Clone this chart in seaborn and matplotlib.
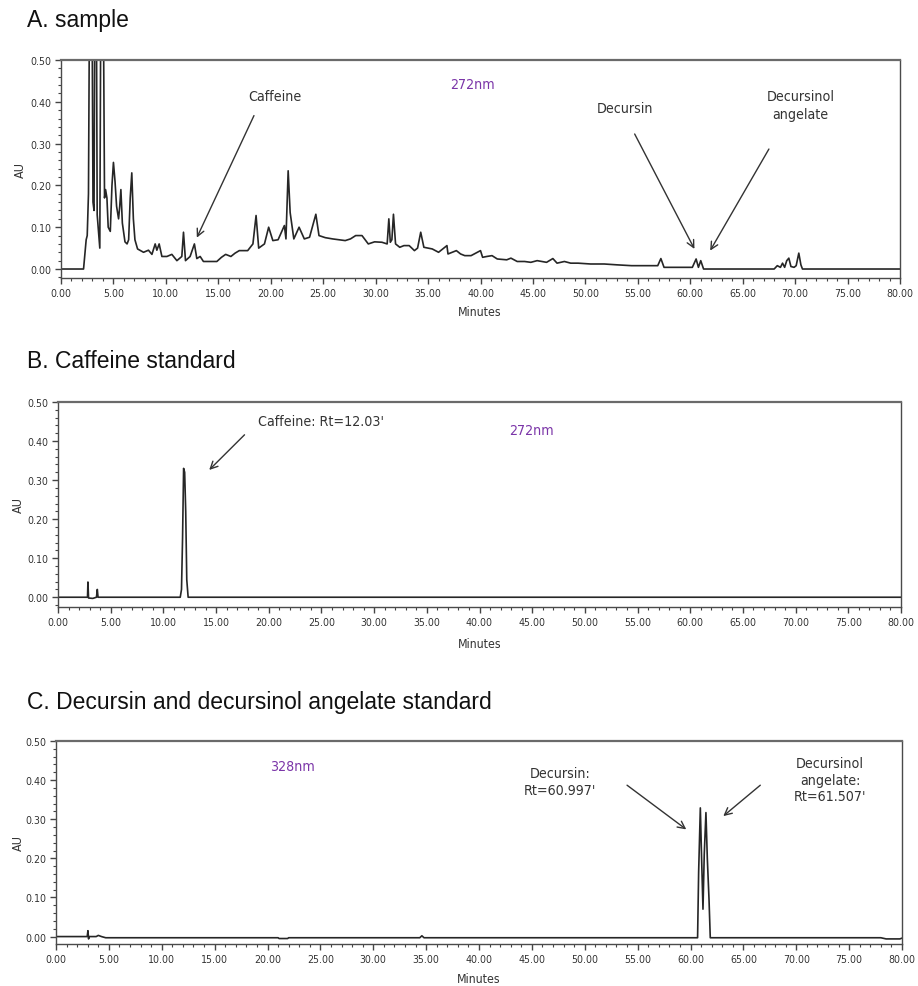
import matplotlib
matplotlib.use("Agg")
import matplotlib.pyplot as plt
import seaborn as sns
import pandas as pd
from matplotlib import font_manager
from matplotlib.ticker import MultipleLocator, FormatStrFormatter

sns.set_style("white")
_names = {f.name for f in font_manager.fontManager.ttflist}
BASE = "Liberation Sans" if "Liberation Sans" in _names else "DejaVu Sans"
plt.rcParams["font.family"] = [BASE, "DejaVu Sans"]

# look for a narrow / condensed face (optional)
_narrow_file = None
for f in font_manager.fontManager.ttflist:
    fn = f.fname.lower()
    if ("narrow" in fn and "liberation" in fn and "bold" not in fn and "italic" not in fn):
        _narrow_file = f.fname
        break
if _narrow_file is None:
    for f in font_manager.fontManager.ttflist:
        fn = f.fname.lower()
        if "dejavusanscondensed.ttf" in fn:
            _narrow_file = f.fname
            break


def nfont(size):
    if _narrow_file:
        return font_manager.FontProperties(fname=_narrow_file, size=size)
    return font_manager.FontProperties(family=[BASE, "DejaVu Sans"], size=size * 0.85)


# ---------------- data ----------------
a_time = [0, 2.15, 2.4, 2.5, 2.62, 2.75, 2.93, 3.05, 3.15, 3.25, 3.35, 3.45, 3.7,
          3.82, 4.0, 4.15, 4.25, 4.38, 4.5, 4.7, 4.86, 5.0, 5.15, 5.3, 5.49, 5.6,
          5.71, 5.85, 6.1, 6.3, 6.45, 6.6, 6.75, 6.9, 7.05, 7.3, 7.87, 8.34, 8.67,
          8.98, 9.14, 9.36, 9.62, 10.1, 10.57, 11.05, 11.52, 11.68, 11.87, 12.31,
          12.72, 12.95, 13.27, 13.58, 14.86, 15.3, 15.7, 16.2, 16.6, 17.0, 17.8,
          18.3, 18.6, 18.85, 19.4, 19.8, 20.2, 20.7, 21.3, 21.45, 21.66, 21.85,
          22.2, 22.7, 23.2, 23.7, 24.3, 24.6, 25.2, 25.9, 26.5, 27.1, 27.6, 28.1,
          28.7, 29.3, 29.9, 30.6, 31.1, 31.26, 31.4, 31.55, 31.7, 31.9, 32.3, 32.7,
          33.2, 33.7, 34.0, 34.3, 34.6, 35.0, 35.4, 36.0, 36.8, 36.9, 37.7, 38.1,
          38.5, 39.1, 40.0, 40.2, 40.6, 41.1, 41.6, 42.5, 42.9, 43.5, 44.2, 44.8,
          45.4, 46.3, 46.9, 47.3, 48.0, 48.6, 49.3, 50.5, 51.8, 53.0, 54.4, 55.6,
          56.9, 57.2, 57.5, 60.2, 60.56, 60.78, 61.0, 61.27, 61.6, 68.0, 68.3,
          68.6, 68.8, 69.0, 69.2, 69.4, 69.6, 69.9, 70.1, 70.35, 70.55, 70.7, 80.0]
a_au = [0, 0, 0.07, 0.08, 0.18, 0.8, 0.8, 0.16, 0.14, 0.8, 0.8, 0.13, 0.05,
        0.8, 0.8, 0.17, 0.19, 0.17, 0.10, 0.09, 0.20, 0.255, 0.21, 0.15, 0.12, 0.15,
        0.19, 0.11, 0.065, 0.06, 0.07, 0.17, 0.23, 0.12, 0.07, 0.048, 0.04, 0.045, 0.035,
        0.06, 0.045, 0.06, 0.03, 0.03, 0.035, 0.02, 0.03, 0.088, 0.02, 0.03,
        0.06, 0.025, 0.03, 0.018, 0.018, 0.028, 0.035, 0.03, 0.038, 0.044, 0.044,
        0.06, 0.128, 0.05, 0.06, 0.10, 0.068, 0.07, 0.104, 0.072, 0.235, 0.135,
        0.072, 0.10, 0.072, 0.076, 0.131, 0.08, 0.075, 0.072, 0.07, 0.068, 0.072, 0.08,
        0.08, 0.06, 0.065, 0.064, 0.06, 0.12, 0.064, 0.07, 0.131, 0.06, 0.052, 0.056,
        0.056, 0.044, 0.05, 0.088, 0.052, 0.05, 0.048, 0.04, 0.056, 0.036, 0.044, 0.036,
        0.032, 0.032, 0.044, 0.028, 0.03, 0.032, 0.024, 0.022, 0.026, 0.018, 0.018, 0.016,
        0.02, 0.016, 0.025, 0.014, 0.018, 0.014, 0.014, 0.012, 0.012, 0.01, 0.008, 0.008,
        0.008, 0.025, 0.004, 0.004, 0.024, 0.004, 0.02, 0.0, 0.0, 0.0, 0.008,
        0.004, 0.014, 0.004, 0.02, 0.026, 0.006, 0.004, 0.008, 0.038, 0.01, 0.0, 0.0]

b_time = [0, 2.8, 2.84, 2.9, 3.3, 3.65, 3.73, 3.8, 11.6, 11.72, 11.82, 11.92,
          12.02, 12.12, 12.22, 12.35, 80.0]
b_au = [0, 0, 0.039, -0.002, -0.003, 0.0, 0.02, 0.0, 0, 0.02, 0.15, 0.33,
        0.32, 0.22, 0.045, 0, 0]

c_time = [0, 2.95, 3.02, 3.08, 3.15, 3.8, 4.0, 4.3, 4.7, 21.0, 21.1, 21.9, 22.0,
          34.4, 34.6, 34.8, 60.67, 60.77, 60.93, 61.05, 61.18, 61.3, 61.46, 61.59,
          61.75, 61.87, 78.0, 78.5, 79.8, 80.0]
c_au = [0, 0, 0.015, -0.006, 0, 0, 0.003, 0.0, -0.003, -0.003, -0.005, -0.005, -0.003,
        -0.003, 0.002, -0.003, -0.003, 0.165, 0.329, 0.2, 0.07, 0.21, 0.317, 0.2,
        0.096, -0.003, -0.003, -0.006, -0.006, -0.004]

panel_titles = ["A. sample", "B. Caffeine standard",
                "C. Decursin and decursinol angelate standard"]
x_ticks = list(range(0, 81, 5))
y_ticks = [0.0, 0.1, 0.2, 0.3, 0.4, 0.5]

# ---------------- figure ----------------
W, H = 918, 987
fig = plt.figure(figsize=(W / 100, H / 100), dpi=100)


def box(l, r, t, b):
    return [l / W, 1 - b / H, (r - l) / W, (b - t) / H]


axA = fig.add_axes(box(61, 900, 61, 279))
axB = fig.add_axes(box(58, 901, 403, 608))
axC = fig.add_axes(box(56, 902, 742, 945))

TRACE = "#262626"
TXT = "#333333"
PURPLE = "#7B35A8"

for ax, t, v, ybot in [(axA, a_time, a_au, -0.0215),
                       (axB, b_time, b_au, -0.025),
                       (axC, c_time, c_au, -0.019)]:
    df = pd.DataFrame({"Minutes": t, "AU": v})
    sns.lineplot(data=df, x="Minutes", y="AU", ax=ax, sort=False,
                 estimator=None, color=TRACE, lw=1.2)
    ax.set_xlim(0, 80)
    ax.set_ylim(ybot, 0.5)
    ax.set_xlabel("")
    ax.set_ylabel("")
    ax.set_xticks(x_ticks)
    ax.set_yticks(y_ticks)
    ax.xaxis.set_minor_locator(MultipleLocator(1))
    ax.yaxis.set_minor_locator(MultipleLocator(0.02))
    ax.xaxis.set_major_formatter(FormatStrFormatter("%.2f"))
    ax.yaxis.set_major_formatter(FormatStrFormatter("%.2f"))
    ax.tick_params(which="major", direction="out", length=4, width=1,
                   color="#444444", labelcolor="#333333", pad=3)
    ax.tick_params(which="minor", direction="out", length=2.5, width=0.8,
                   color="#444444")
    ax.tick_params(axis="x", which="both", bottom=True)
    ax.tick_params(axis="y", which="both", left=True)
    for lab in ax.get_xticklabels() + ax.get_yticklabels():
        lab.set_fontproperties(nfont(7.6))
    for s in ax.spines.values():
        s.set_color("#4a4a4a")
        s.set_linewidth(1.0)
    ax.spines["top"].set_linewidth(1.6)
    ax.spines["top"].set_color("#6a6a6a")

# titles, axis labels
for txt, y in zip(panel_titles, [20, 362, 703]):
    fig.text(27 / W, 1 - y / H, txt, fontsize=16.5, va="center", ha="left",
             color="#111111", family=[BASE, "DejaVu Sans"])

for xc, yc in [(20, 170), (18, 505), (18, 843)]:
    fig.text(xc / W, 1 - yc / H, "AU", rotation=90, fontproperties=nfont(9),
             va="center", ha="center", color="#333333")
for xc, yc in [(480, 312), (480, 645), (479, 980)]:
    fig.text(xc / W, 1 - yc / H, "Minutes", fontproperties=nfont(8.8),
             va="center", ha="center", color="#333333")

AFS = 10.2
arrow = dict(arrowstyle="->", color="#333333", lw=1.0, shrinkA=0, shrinkB=0,
             mutation_scale=13)


def label(ax, x, y, s, color=TXT, ha="center", ls=1.3):
    ax.text(x, y, s, fontproperties=nfont(AFS), color=color, ha=ha,
            va="center", linespacing=ls)


# Panel A annotations
label(axA, 20.35, 0.414, "Caffeine")
axA.annotate("", xy=(12.95, 0.075), xytext=(18.4, 0.367), arrowprops=arrow)
label(axA, 39.2, 0.443, "272nm", color=PURPLE)
label(axA, 53.8, 0.385, "Decursin")
axA.annotate("", xy=(60.4, 0.048), xytext=(54.7, 0.323), arrowprops=arrow)
label(axA, 70.5, 0.392, "Decursinol\nangelate")
axA.annotate("", xy=(61.9, 0.044), xytext=(67.5, 0.287), arrowprops=arrow)

# Panel B annotations
label(axB, 19.0, 0.451, "Caffeine: Rt=12.03'", ha="left")
axB.annotate("", xy=(14.35, 0.326), xytext=(17.7, 0.416), arrowprops=arrow)
label(axB, 44.9, 0.429, "272nm", color=PURPLE)

# Panel C annotations
label(axC, 22.4, 0.435, "328nm", color=PURPLE)
label(axC, 47.7, 0.397, "Decursin:\nRt=60.997'")
axC.annotate("", xy=(59.6, 0.274), xytext=(54.0, 0.387), arrowprops=arrow)
label(axC, 73.2, 0.401, "Decursinol\nangelate:\nRt=61.507'", ls=1.25)
axC.annotate("", xy=(63.1, 0.308), xytext=(66.6, 0.387), arrowprops=arrow)

fig.savefig("out.png", dpi=100)
